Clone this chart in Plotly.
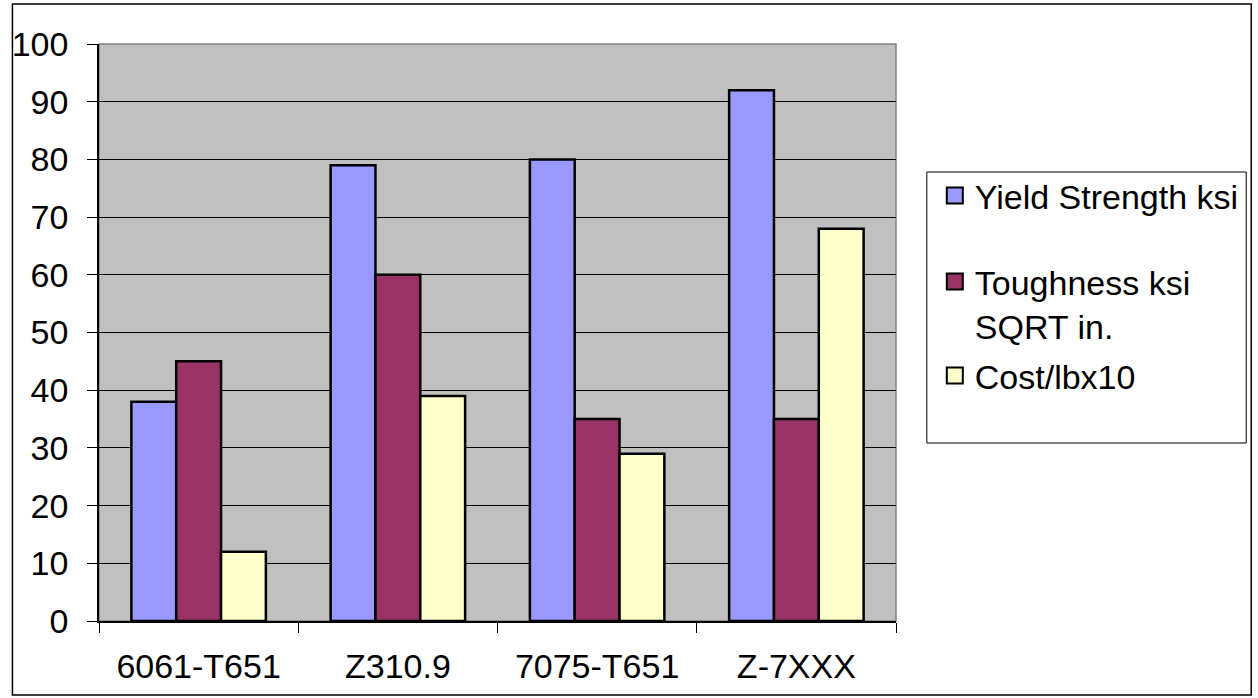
import plotly.graph_objects as go

# Alloy comparison data
alloys = ["6061-T651", "Z310.9", "7075-T651", "Z-7XXX"]
yield_strength = [38, 79, 80, 92]
toughness = [45, 60, 35, 35]
cost = [12, 39, 29, 68]

series_names = ["Yield Strength ksi", "Toughness ksi<br>SQRT in.", "Cost/lbx10"]
series_colors = ["#9999FF", "#993366", "#FFFFCC"]
y_ticks = [0, 10, 20, 30, 40, 50, 60, 70, 80, 90, 100]

FONT = "Liberation Sans, Arial, sans-serif"
FS = 34

W, H = 1258, 698
L, R, T, B = 95, 896, 44, 621


def px_x(p):
    return (p - L) / (R - L)


def px_y(p):
    return (B - p) / (B - T)


legend_ids = ["legend", "legend2", "legend3"]
legend_centers = [196, 304, 376]

fig = go.Figure()
for name, vals, col in zip(series_names, [yield_strength, toughness, cost], series_colors):
    fig.add_trace(go.Bar(
        x=alloys, y=vals, name=name, showlegend=False,
        marker=dict(color=col, line=dict(color="#000000", width=2.5)),
    ))

# legend keys: square swatches, one legend per series
for name, col, lid in zip(series_names, series_colors, legend_ids):
    fig.add_trace(go.Scatter(
        x=[None], y=[None], mode="markers", name=name, legend=lid,
        marker=dict(symbol="square", size=16, color=col, line=dict(color="#000000", width=2)),
    ))

shapes = [
    # outer frame
    dict(type="rect", xref="paper", yref="paper",
         x0=px_x(8), x1=px_x(1253), y0=px_y(695), y1=px_y(4),
         line=dict(color="#000000", width=1.5), layer="below"),
    # plot area border
    dict(type="rect", xref="paper", yref="paper", x0=0, x1=1, y0=0, y1=1,
         line=dict(color="#808080", width=1.5), layer="below"),
    # legend box
    dict(type="rect", xref="paper", yref="paper",
         x0=px_x(927), x1=px_x(1248), y0=px_y(443), y1=px_y(172),
         line=dict(color="#000000", width=1), fillcolor="#FFFFFF", layer="below"),
]

legend_common = dict(
    xanchor="left", yanchor="middle", bgcolor="rgba(0,0,0,0)", borderwidth=0,
    font=dict(family=FONT, size=FS, color="#000000"), valign="top",
)

fig.update_layout(
    width=W, height=H,
    margin=dict(l=L, r=W - R, t=T, b=H - B),
    paper_bgcolor="#FFFFFF",
    plot_bgcolor="#C0C0C0",
    barmode="group",
    bargap=0.325,
    bargroupgap=0,
    font=dict(family=FONT, size=FS, color="#000000"),
    shapes=shapes,
    showlegend=True,
    legend=dict(x=px_x(935), y=px_y(legend_centers[0]), **legend_common),
    legend2=dict(x=px_x(935), y=px_y(legend_centers[1]), **legend_common),
    legend3=dict(x=px_x(935), y=px_y(legend_centers[2]), **legend_common),
    xaxis=dict(
        type="category", showgrid=False, showline=True, linecolor="#000000", linewidth=1.5,
        ticks="outside", ticklen=10, tickcolor="#000000", tickson="boundaries",
        tickfont=dict(family=FONT, size=FS), ticklabelstandoff=14,
    ),
    yaxis=dict(
        range=[0, 100], tickvals=y_ticks, showgrid=True, gridcolor="#000000", gridwidth=1,
        showline=True, linecolor="#000000", linewidth=1.5, zeroline=False,
        ticks="outside", ticklen=10, tickcolor="#000000",
        tickfont=dict(family=FONT, size=FS), ticklabelstandoff=12,
    ),
)

fig.write_html("out.html")
